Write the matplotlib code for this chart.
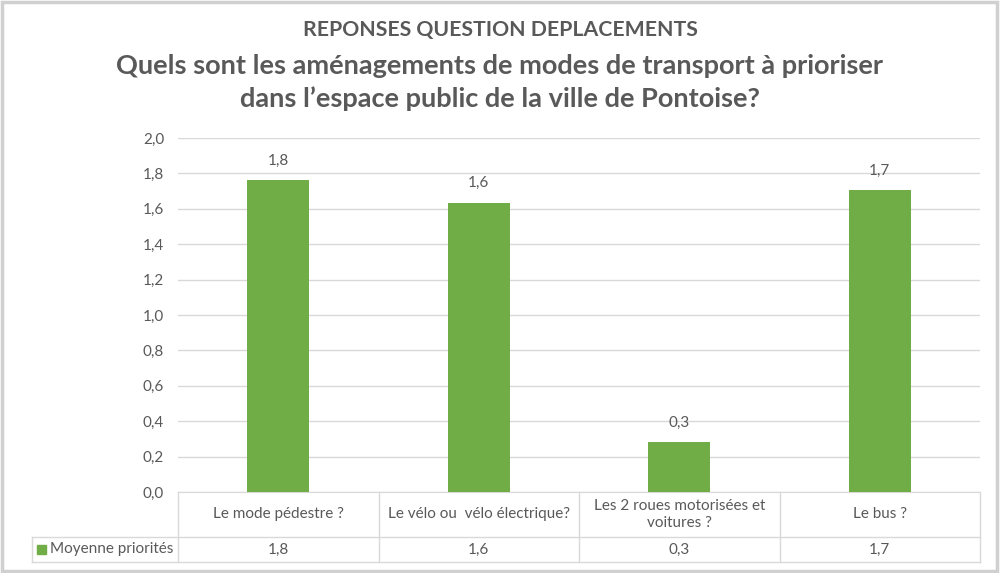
import matplotlib.pyplot as plt
from matplotlib.patches import Rectangle

# Data
categories = ['Le mode pédestre ?', 'Le vélo ou  vélo électrique?',
              'Les 2 roues motorisées et\nvoitures ?', 'Le bus ?']
values = [1.76, 1.635, 0.28, 1.705]
series_name = 'Moyenne priorités'
y_ticks = [0.0, 0.2, 0.4, 0.6, 0.8, 1.0, 1.2, 1.4, 1.6, 1.8, 2.0]

title = 'REPONSES QUESTION DEPLACEMENTS'
subtitle = ('Quels sont les aménagements de modes de transport à prioriser\n'
            'dans l\u2019espace public de la ville de Pontoise?')

green = '#70AD47'
text_col = '#595959'
grid_col = '#D9D9D9'
fs = 11

plt.rcParams['font.family'] = ['Lato', 'DejaVu Sans']


def fmt(v):
    return '{:.1f}'.format(v).replace('.', ',')


fig = plt.figure(figsize=(10, 5.73), dpi=100)
fig.patches.append(Rectangle((0.002, 0.004), 0.995, 0.992, transform=fig.transFigure,
                             fill=False, edgecolor='#D0D0D0', linewidth=2.5))

ax = fig.add_axes([0.178, 0.1414, 0.802, 0.6178])
x = list(range(len(categories)))
ax.bar(x, values, width=0.31, color=green, zorder=3)
ax.set_xlim(-0.5, len(categories) - 0.5)
ax.set_ylim(0, 2.0)
ax.set_yticks(y_ticks)
ax.set_yticklabels([fmt(t) for t in y_ticks], color=text_col, fontsize=fs)
ax.tick_params(axis='y', length=0, pad=10)
ax.set_xticks([])
ax.grid(axis='y', color=grid_col, linewidth=1, zorder=0)
for s in ['left', 'right', 'top']:
    ax.spines[s].set_visible(False)
ax.spines['bottom'].set_color(grid_col)

for xi, v in zip(x, values):
    ax.annotate(fmt(v), (xi, v), xytext=(0, 9), textcoords='offset points',
                ha='center', va='bottom', color=text_col, fontsize=fs)

# Data table under the axis
tr = ax.get_xaxis_transform()
h1 = 45 / 354
h2 = 25 / 354
left = -0.5 - 146 / 200.5
lkw = dict(color=grid_col, linewidth=1, transform=tr, clip_on=False)
ax.plot([left, 3.5], [-h1, -h1], **lkw)
ax.plot([left, 3.5], [-h1 - h2, -h1 - h2], **lkw)
ax.plot([left, left], [-h1, -h1 - h2], **lkw)
for i in range(len(categories) + 1):
    ax.plot([i - 0.5, i - 0.5], [0, -h1 - h2], **lkw)

for xi, cat, v in zip(x, categories, values):
    ax.text(xi, -h1 / 2, cat, transform=tr, ha='center', va='center',
            color=text_col, fontsize=fs, linespacing=1.3)
    ax.text(xi, -h1 - h2 / 2, fmt(v), transform=tr, ha='center', va='center',
            color=text_col, fontsize=fs)

ax.add_patch(Rectangle((left + 0.025, -h1 - h2 / 2 - 0.0135), 0.045, 0.027,
                       transform=tr, color=green, clip_on=False))
ax.text(left + 0.09, -h1 - h2 / 2, series_name, transform=tr, ha='left',
        va='center', color=text_col, fontsize=fs)

fig.text(0.5, 0.948, title, ha='center', va='center', color=text_col,
         fontsize=15.3, fontweight='bold')
fig.text(0.5, 0.856, subtitle, ha='center', va='center', color=text_col,
         fontsize=19.5, fontweight='bold', linespacing=1.4)

fig.savefig('out.png', dpi=100)
